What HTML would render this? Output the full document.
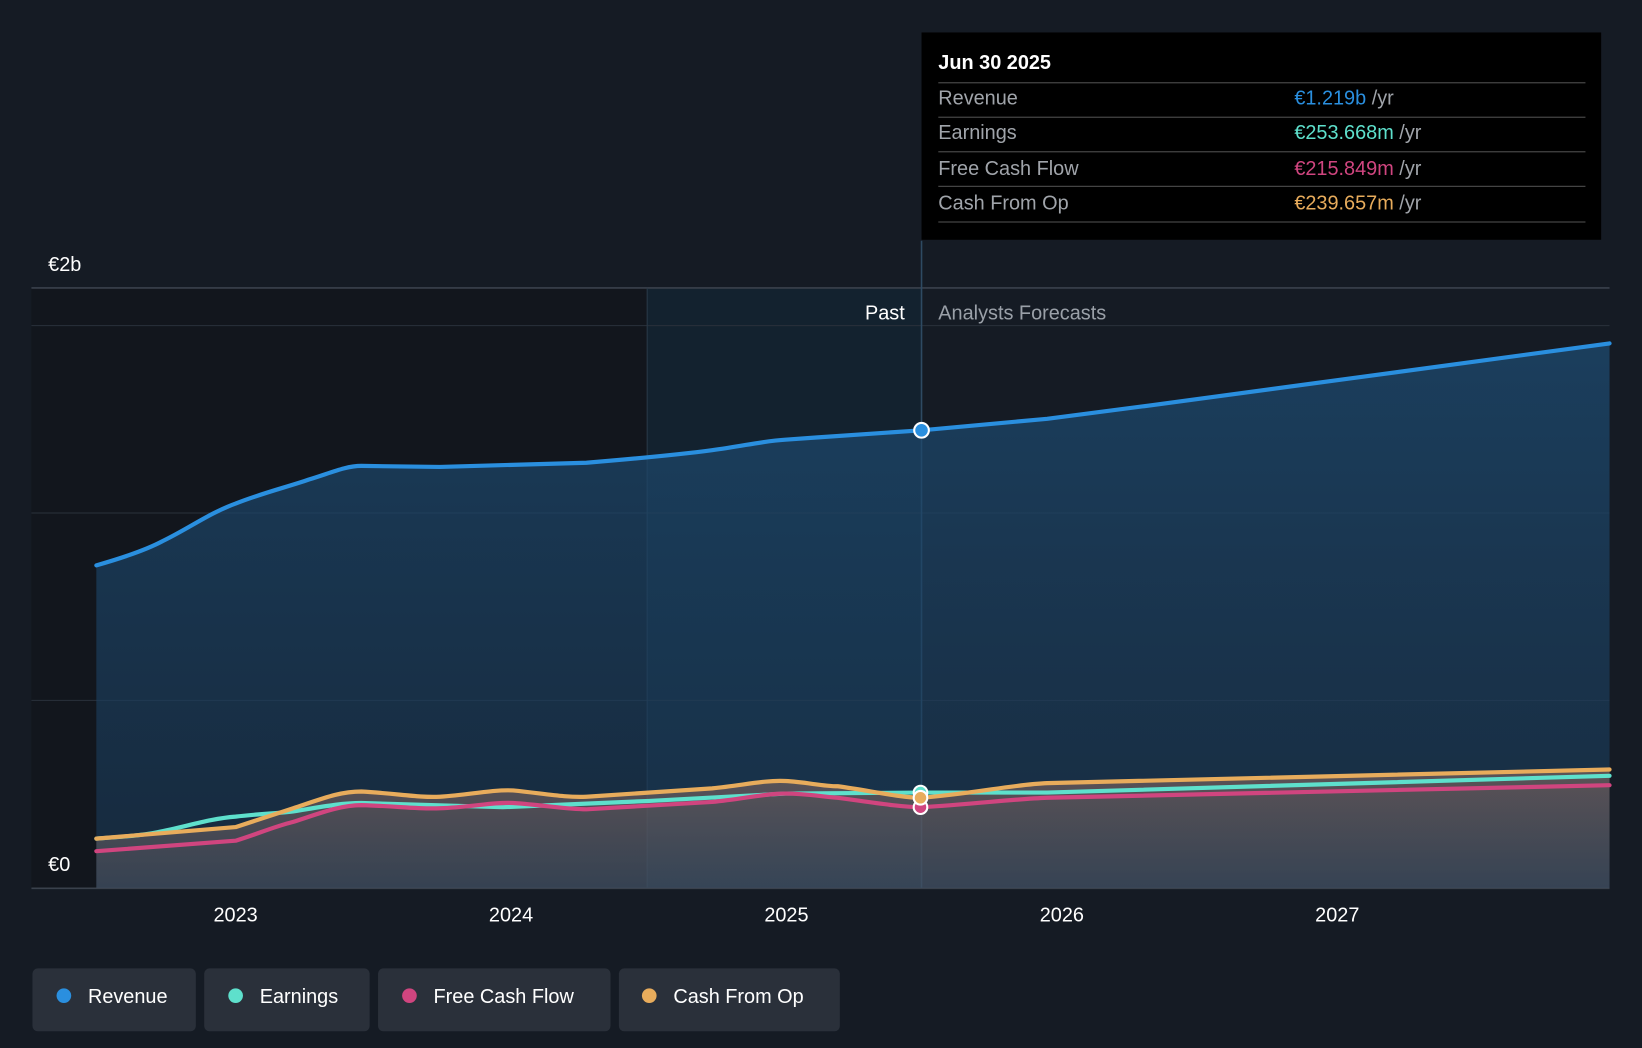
<!DOCTYPE html>
<html><head><meta charset="utf-8"><style>
html,body{margin:0;padding:0;background:#151b24;}
svg{display:block;font-family:"Liberation Sans",sans-serif;}
</style></head><body>
<svg width="1642" height="1048" viewBox="0 0 1568 1001" preserveAspectRatio="none">
<defs>
<linearGradient id="rg" x1="0" y1="0" x2="0" y2="1"><stop offset="0" stop-color="#1d4a70" stop-opacity="0.75"/><stop offset="1" stop-color="#1a3a58" stop-opacity="0.55"/></linearGradient>
<linearGradient id="lg" x1="0" y1="0" x2="0" y2="1"><stop offset="0" stop-color="#8a6a60" stop-opacity="0.6"/><stop offset="1" stop-color="#555a66" stop-opacity="0.5"/></linearGradient>
</defs>
<rect width="1568" height="1001" fill="#151b24"/>
<rect x="30" y="275" width="588" height="574" fill="#12161d"/>
<rect x="618" y="275" width="262" height="574" fill="#13222f"/>
<line x1="30" y1="275" x2="1537" y2="275" stroke="#3a414c" stroke-width="1.5"/>
<line x1="30" y1="311" x2="1537" y2="311" stroke="#2a313b"/>
<line x1="30" y1="490" x2="1537" y2="490" stroke="#2a313b"/>
<line x1="30" y1="669" x2="1537" y2="669" stroke="#2a313b"/>
<line x1="30" y1="848.5" x2="1537" y2="848.5" stroke="#3a414c" stroke-width="1.5"/>
<line x1="618" y1="275" x2="618" y2="848" stroke="#2a3a48"/>
<line x1="880" y1="230" x2="880" y2="848" stroke="#2e4a62" stroke-width="1.5"/>
<path d="M92,540 C120,532 140,525 155,517 C180,505 200,490 225,481 C250,471 275,465 295,458 C315,452 330,445 345,445 L420,446 L560,442 C620,437 650,434 680,430 C710,426 730,421 750,420 C790,417 810,416 880,411 L1000,400 L1100,387 L1300,360 L1537,328 L1537,848 L92,848Z" fill="url(#rg)"/>
<path d="M92,801 L225,790 C250,782 265,777 280,772 C310,762 325,756 345,756 C380,758 400,762 420,761 C450,759 470,754 490,755 C520,758 540,762 560,761 L680,753 C710,750 730,745 750,746 C770,747 785,751 800,751 C830,755 860,762 880,762 C930,758 970,749 1000,748 L1537,735 L1537,848 L92,848Z" fill="url(#lg)"/>
<g fill="none" stroke-width="4" stroke-linecap="round" stroke-linejoin="round">
<path d="M92,540 C120,532 140,525 155,517 C180,505 200,490 225,481 C250,471 275,465 295,458 C315,452 330,445 345,445 L420,446 L560,442 C620,437 650,434 680,430 C710,426 730,421 750,420 C790,417 810,416 880,411 L1000,400 L1100,387 L1300,360 L1537,328" stroke="#2a8fdf"/>
<path d="M92,801 C120,799 135,798 150,795 C180,789 200,782 225,780 C250,777 265,777 280,775 C305,771 325,767 345,767 L480,771 L620,765 L750,758 L880,757 L1000,757 L1537,741" stroke="#5ee0cc"/>
<path d="M92,813 L225,803 C245,797 260,790 280,785 C305,777 325,769 345,769 C380,770 400,773 420,772 C450,771 470,766 490,767 C520,769 540,773 560,773 L680,766 C710,763 730,758 750,758 C770,758 785,761 800,762 C830,766 860,771 880,771 C930,768 970,763 1000,762 L1537,750" stroke="#d0457f"/>
<path d="M92,801 L225,790 C250,782 265,777 280,772 C310,762 325,756 345,756 C380,758 400,762 420,761 C450,759 470,754 490,755 C520,758 540,762 560,761 L680,753 C710,750 730,745 750,746 C770,747 785,751 800,751 C830,755 860,762 880,762 C930,758 970,749 1000,748 L1537,735" stroke="#e8ac5c"/>
</g>
<circle cx="880" cy="411" r="7" fill="#2a8fdf" stroke="#fff" stroke-width="2"/>
<circle cx="879" cy="757" r="6.5" fill="#5ee0cc" stroke="#fff" stroke-width="2"/>
<circle cx="879" cy="771" r="6.5" fill="#d0457f" stroke="#fff" stroke-width="2"/>
<circle cx="879" cy="762" r="6.5" fill="#e8ac5c" stroke="#fff" stroke-width="2"/>
<text x="46" y="259" fill="#fff" font-size="19">€2b</text>
<text x="46" y="832" fill="#fff" font-size="19">€0</text>
<text x="864" y="305" fill="#fff" font-size="19" text-anchor="end">Past</text>
<text x="896" y="305" fill="#9aa0a8" font-size="19">Analysts Forecasts</text>
<g fill="#fff" font-size="19" text-anchor="middle">
<text x="225" y="880">2023</text><text x="488" y="880">2024</text><text x="751" y="880">2025</text><text x="1014" y="880">2026</text><text x="1277" y="880">2027</text>
</g>
<rect x="880" y="31" width="649" height="198" fill="#000"/>
<text x="896" y="66" fill="#fff" font-size="19" font-weight="bold">Jun 30 2025</text>
<g stroke="#444" stroke-width="1.2"><line x1="896" y1="79" x2="1514" y2="79"/><line x1="896" y1="112" x2="1514" y2="112"/><line x1="896" y1="145" x2="1514" y2="145"/><line x1="896" y1="178" x2="1514" y2="178"/><line x1="896" y1="212" x2="1514" y2="212"/></g>
<g font-size="19" fill="#a0a4aa">
<text x="896" y="100">Revenue</text><text x="896" y="133">Earnings</text><text x="896" y="167">Free Cash Flow</text><text x="896" y="200">Cash From Op</text>
</g>
<g font-size="19">
<text x="1236" y="100"><tspan fill="#2a8fdf">€1.219b</tspan><tspan fill="#a0a4aa"> /yr</tspan></text>
<text x="1236" y="133"><tspan fill="#5ee0cc">€253.668m</tspan><tspan fill="#a0a4aa"> /yr</tspan></text>
<text x="1236" y="167"><tspan fill="#d0457f">€215.849m</tspan><tspan fill="#a0a4aa"> /yr</tspan></text>
<text x="1236" y="200"><tspan fill="#e8ac5c">€239.657m</tspan><tspan fill="#a0a4aa"> /yr</tspan></text>
</g>
<g font-size="19" fill="#fff">
<rect x="31" y="925" width="156" height="60" rx="5" fill="#2a303a"/><circle cx="61" cy="951" r="7" fill="#2a8fdf"/><text x="84" y="958">Revenue</text>
<rect x="195" y="925" width="158" height="60" rx="5" fill="#2a303a"/><circle cx="225" cy="951" r="7" fill="#5ee0cc"/><text x="248" y="958">Earnings</text>
<rect x="361" y="925" width="222" height="60" rx="5" fill="#2a303a"/><circle cx="391" cy="951" r="7" fill="#d0457f"/><text x="414" y="958">Free Cash Flow</text>
<rect x="591" y="925" width="211" height="60" rx="5" fill="#2a303a"/><circle cx="620" cy="951" r="7" fill="#e8ac5c"/><text x="643" y="958">Cash From Op</text>
</g>
</svg>
</body></html>
